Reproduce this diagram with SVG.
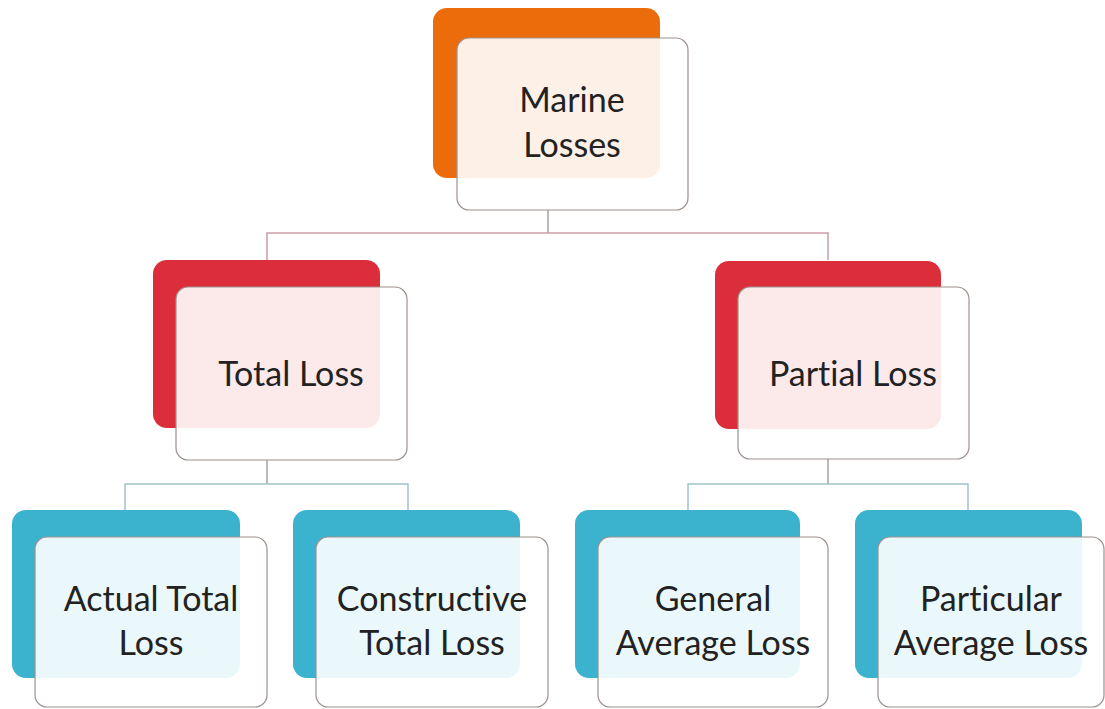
<svg xmlns="http://www.w3.org/2000/svg" width="1105" height="709" viewBox="0 0 1105 709">
<style>
.back{stroke:none}
.orange{fill:#ec6c0b}
.red{fill:#dc2e3a}
.blue{fill:#3bb3cf}
.front{fill:#ffffff;fill-opacity:0.9;stroke:#9c918c;stroke-width:1.2}
.lbl{font-family:Lato,"Open Sans",sans-serif;font-size:34px;fill:#222222;text-anchor:middle;font-variant-ligatures:none}
.drop{fill:none;stroke:#8c8c8c;stroke-width:1.2}
.bar1{fill:none;stroke:#c99ea6;stroke-width:1.5}
.bar2{fill:none;stroke:#9dc4cd;stroke-width:1.5}
</style>
<rect width="1105" height="709" fill="#ffffff"/>
<g id="connectors">
<path class="drop" d="M548,210 V233"/>
<path class="bar1" d="M267,260 V233 H828 V260"/>
<path class="drop" d="M267,460 V484"/>
<path class="bar2" d="M125,510 V484 H408 V510"/>
<path class="drop" d="M828,458 V484"/>
<path class="bar2" d="M688,510 V484 H968 V510"/>
</g>
<g id="marine">
<rect class="back orange" x="433" y="8" width="227" height="170" rx="14"/>
<rect class="front" x="457" y="38" width="231" height="172" rx="12"/>
<text class="lbl" x="572" y="112">Marine</text>
<text class="lbl" x="572" y="157">Losses</text>
</g>
<g id="total">
<rect class="back red" x="153" y="260" width="227" height="168" rx="14"/>
<rect class="front" x="176" y="287" width="231" height="173" rx="12"/>
<text class="lbl" x="291" y="386">Total Loss</text>
</g>
<g id="partial">
<rect class="back red" x="715" y="261" width="226" height="168" rx="14"/>
<rect class="front" x="738" y="287" width="231" height="172" rx="12"/>
<text class="lbl" x="853" y="386">Partial Loss</text>
</g>
<g id="actual">
<rect class="back blue" x="12" y="510" width="228" height="168" rx="14"/>
<rect class="front" x="35" y="537" width="232" height="170" rx="12"/>
<text class="lbl" x="151" y="611">Actual Total</text>
<text class="lbl" x="151" y="655">Loss</text>
</g>
<g id="constructive">
<rect class="back blue" x="293" y="510" width="227" height="168" rx="14"/>
<rect class="front" x="316" y="537" width="232" height="170" rx="12"/>
<text class="lbl" x="432" y="611">Constructive</text>
<text class="lbl" x="432" y="655">Total Loss</text>
</g>
<g id="general">
<rect class="back blue" x="575" y="510" width="225" height="168" rx="14"/>
<rect class="front" x="598" y="537" width="230" height="170" rx="12"/>
<text class="lbl" x="713" y="611">General</text>
<text class="lbl" x="713" y="655">Average Loss</text>
</g>
<g id="particular">
<rect class="back blue" x="855" y="510" width="227" height="168" rx="14"/>
<rect class="front" x="878" y="537" width="226" height="170" rx="12"/>
<text class="lbl" x="991" y="611">Particular</text>
<text class="lbl" x="991" y="655">Average Loss</text>
</g>
</svg>
